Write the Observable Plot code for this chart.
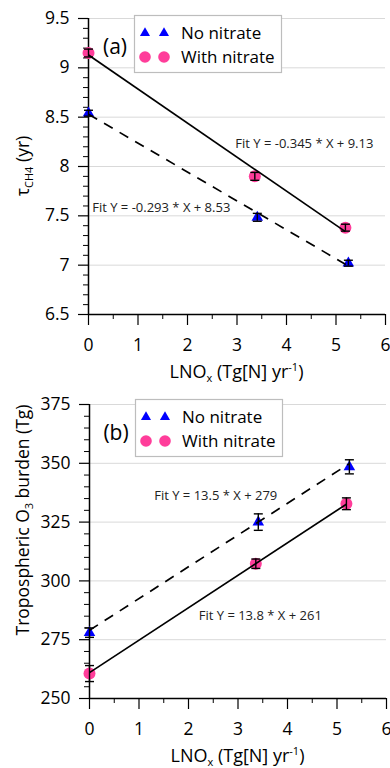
<!DOCTYPE html>
<html><head><meta charset="utf-8">
<script src="https://cdn.jsdelivr.net/npm/d3@7"></script>
<script src="https://cdn.jsdelivr.net/npm/@observablehq/plot@0.6"></script>
<style>
body{margin:0;background:#fff;font-family:"Open Sans",sans-serif;}
#chart{width:390px;}
#chart svg{display:block;}
</style></head><body><div id="chart"></div>
<script>
// ---- data ----
const xNo = [0, 3.41, 5.25];
const xWith = [0, 3.36, 5.19];

const tauNo = [8.54, 7.485, 7.02];
const tauNoErr = [0.03, 0.04, 0.03];
const tauWith = [9.15, 7.90, 7.38];
const tauWithErr = [0.04, 0.04, 0.035];

const o3No = [278, 325, 348.5];
const o3NoErr = [2, 3.5, 3];
const o3With = [260.6, 307.3, 332.8];
const o3WithErr = [3.4, 2, 2.5];

const fitTauNo = [-0.293, 8.53];
const fitTauWith = [-0.345, 9.13];
const fitO3No = [13.5, 279];
const fitO3With = [13.8, 261];

const xMajor = [0, 1, 2, 3, 4, 5, 6];
const xMinor = [0.5, 1.5, 2.5, 3.5, 4.5, 5.5];
const tauMajor = [6.5, 7, 7.5, 8, 8.5, 9, 9.5];
const tauMinor = d3.range(66, 95).filter(v => v % 5 !== 0).map(v => v / 10);
const o3Major = [250, 275, 300, 325, 350, 375];
const o3Minor = d3.range(255, 375, 5).filter(v => v % 25 !== 0);

const legendLabels = ["No nitrate", "With nitrate"];
const blue = "#0000ff", pink = "#ff3d9a";

const capSymbol = {draw(ctx) { ctx.moveTo(-4.5, 0); ctx.lineTo(4.5, 0); }};

function pts(xs, ys, es) { return xs.map((x, i) => ({x, y: ys[i], e: es[i]})); }

function panel(cfg) {
  const no = pts(xNo, cfg.yNo, cfg.eNo);
  const wi = pts(xWith, cfg.yWith, cfg.eWith);
  const all = no.concat(wi);
  const fitNo = [{x1: 0, x2: xNo[2], m: cfg.fitNo[0], b: cfg.fitNo[1]}];
  const fitWi = [{x1: 0, x2: xWith[2], m: cfg.fitWith[0], b: cfg.fitWith[1]}];
  const fitLine = (data, dash) => Plot.link(data, {
    x1: "x1", x2: "x2", y1: d => d.m * d.x1 + d.b, y2: d => d.m * d.x2 + d.b,
    stroke: "#000", strokeWidth: 1.7, strokeDasharray: dash
  });
  const svg = Plot.plot({
    width: 390, height: 384,
    marginTop: cfg.mt, marginBottom: 70, marginLeft: cfg.ml, marginRight: cfg.mr,
    x: {domain: [0, 6]},
    y: {domain: cfg.yDomain},
    style: {fontFamily: "Open Sans", fontSize: "17px", color: "#000", overflow: "visible", background: "#fff"},
    marks: [
      Plot.gridY(cfg.yMajor, {stroke: "#d9d9d9", strokeOpacity: 1, strokeWidth: 1}),
      Plot.axisY(cfg.yMinor, {tickSize: 5, tickFormat: () => "", label: null, stroke: "#000", strokeWidth: 1}),
      Plot.axisY(cfg.yMajor, {tickSize: 10, tickPadding: 9, label: null, fontSize: 17.5, tickFormat: d => String(d), stroke: "#000", strokeWidth: 1.2}),
      Plot.axisX(xMinor, {tickSize: 5, tickFormat: () => "", label: null, stroke: "#000", strokeWidth: 1}),
      Plot.axisX(xMajor, {tickSize: 11, tickPadding: 13, label: null, fontSize: 17.5, tickFormat: d => String(d), stroke: "#000", strokeWidth: 1.2}),
      Plot.ruleX([0], {stroke: "#000", strokeWidth: 1.5}),
      Plot.ruleY([cfg.yDomain[0]], {stroke: "#000", strokeWidth: 1.5}),
      Plot.dot(wi, {x: "x", y: "y", r: 6, fill: pink}),
      Plot.dot(no, {x: "x", y: "y", r: 4.3, symbol: "triangle", fill: blue}),
      fitLine(fitWi, null),
      fitLine(fitNo, "10,8"),
      Plot.ruleX(all, {x: "x", y1: d => d.y - d.e, y2: d => d.y + d.e, stroke: "#000", strokeWidth: 1.4}),
      Plot.dot(all, {x: "x", y: d => d.y - d.e, symbol: capSymbol, stroke: "#000", strokeWidth: 1.4, fill: "none"}),
      Plot.dot(all, {x: "x", y: d => d.y + d.e, symbol: capSymbol, stroke: "#000", strokeWidth: 1.4, fill: "none"}),
      Plot.text(cfg.fitLabels, {x: "x", y: "y", text: "t", textAnchor: "middle", fontSize: 13, fill: "#222"}),
      Plot.text([cfg.tag], {frameAnchor: "top-left", dx: 26.5, dy: 21, fontSize: 21, textAnchor: "middle"})
    ]
  });
  const s = d3.select(svg);
  // legend
  const lg = s.append("g").attr("transform", `translate(${cfg.lx},${cfg.ly})`).attr("text-anchor", "start");
  lg.append("rect").attr("x", 0.5).attr("y", 0.5).attr("width", 147).attr("height", 57)
    .attr("fill", "#ffffff").attr("stroke", "#bdbdbd").attr("stroke-width", 1.2);
  const tri = d3.symbol(d3.symbolTriangle, 44)();
  [11, 30].forEach(cx => {
    lg.append("path").attr("d", tri).attr("transform", `translate(${cx},18)`).attr("fill", blue);
    lg.append("circle").attr("cx", cx).attr("cy", 42).attr("r", 5.8).attr("fill", pink);
  });
  lg.append("text").attr("x", 47).attr("y", 24).attr("font-size", 17).attr("text-anchor", "start").text(legendLabels[0]);
  lg.append("text").attr("x", 47).attr("y", 48).attr("font-size", 17).attr("text-anchor", "start").text(legendLabels[1]);
  // y title
  const yt = s.append("text").attr("transform", `translate(29,${cfg.ytY}) rotate(-90)`)
    .attr("text-anchor", "middle").attr("font-size", 17.5);
  cfg.yTitle(yt);
  // x title
  const xt = s.append("text").attr("x", (cfg.ml + 390 - cfg.mr) / 2).attr("y", 384 - 70 + 64)
    .attr("text-anchor", "middle").attr("font-size", 18);
  xt.append("tspan").text("LNO");
  xt.append("tspan").attr("font-size", 11).attr("dy", 4).text("x");
  xt.append("tspan").attr("dy", -4).text(" (Tg[N] yr");
  xt.append("tspan").attr("font-size", 11).attr("dy", -7).text("-1");
  xt.append("tspan").attr("dy", 7).text(")");
  return svg;
}

const chart = document.getElementById("chart");
chart.append(panel({
  yNo: tauNo, eNo: tauNoErr, yWith: tauWith, eWith: tauWithErr,
  fitNo: fitTauNo, fitWith: fitTauWith,
  yDomain: [6.5, 9.5], yMajor: tauMajor, yMinor: tauMinor,
  mt: 18, ml: 88, mr: 5, tag: "(a)", lx: 134, ly: 15, ytY: 166,
  fitLabels: [
    {x: 4.36, y: 8.23, t: "Fit Y = -0.345 * X + 9.13"},
    {x: 1.47, y: 7.58, t: "Fit Y = -0.293 * X + 8.53"}
  ],
  yTitle: t => {
    t.append("tspan").text("τ");
    t.append("tspan").attr("font-size", 11).attr("dy", 4).text("CH4");
    t.append("tspan").attr("dy", -4).text(" (yr)");
  }
}));
chart.append(panel({
  yNo: o3No, eNo: o3NoErr, yWith: o3With, eWith: o3WithErr,
  fitNo: fitO3No, fitWith: fitO3With,
  yDomain: [250, 375], yMajor: o3Major, yMinor: o3Minor,
  mt: 20, ml: 89, mr: 4, tag: "(b)", lx: 135, ly: 15, ytY: 136,
  fitLabels: [
    {x: 2.55, y: 336.3, t: "Fit Y = 13.5 * X + 279"},
    {x: 3.45, y: 285, t: "Fit Y = 13.8 * X + 261"}
  ],
  yTitle: t => {
    t.append("tspan").text("Tropospheric O");
    t.append("tspan").attr("font-size", 11).attr("dy", 4).text("3");
    t.append("tspan").attr("dy", -4).text(" burden (Tg)");
  }
}));
</script></body></html>
